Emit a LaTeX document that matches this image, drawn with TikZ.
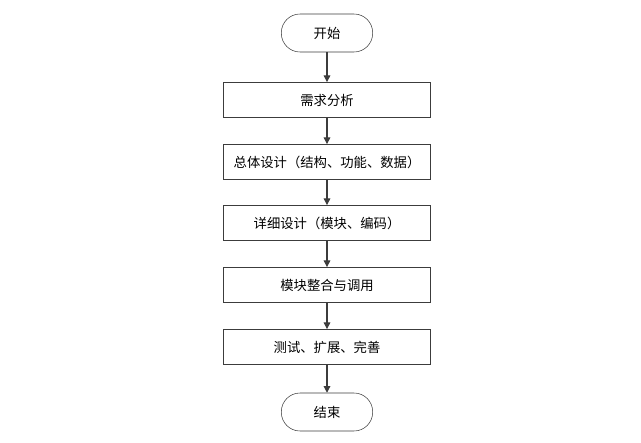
\documentclass[tikz,border=0pt]{standalone}
\usepackage{fontspec}
\setmainfont{Noto Sans CJK SC}
\usepackage{tikz}
\usetikzlibrary{arrows.meta}
\definecolor{lineclr}{RGB}{60,60,60}
\newcommand{\TXT}[1]{\textcolor{black}{#1}}

\begin{document}
\begin{tikzpicture}[x=0.75pt,y=-0.75pt,
    stepbox/.style={draw=lineclr,thin,minimum width=155.25pt,minimum height=26.5pt,font=\fontsize{10}{12}\selectfont},
    termbox/.style={draw=lineclr,thin,rounded corners=14pt,minimum width=68.5pt,minimum height=28.5pt,font=\fontsize{10}{12}\selectfont},
    flow/.style={draw=lineclr,thick,-{Triangle[length=5pt,width=5pt]}}]
    \useasboundingbox (0,0) rectangle (641,442);

    \node[termbox] (start) at (327,33) {\TXT{开始}};
    \node[stepbox] (req) at (327,100) {\TXT{需求分析}};
    \node[stepbox] (arch) at (327,162) {\TXT{总体设计（结构、功能、数据）}};
    \node[stepbox] (detail) at (327,223) {\TXT{详细设计（模块、编码）}};
    \node[stepbox] (merge) at (327,285) {\TXT{模块整合与调用}};
    \node[stepbox] (test) at (327,347) {\TXT{测试、扩展、完善}};
    \node[termbox] (stop) at (327,412) {\TXT{结束}};

    \draw[flow] (start) -- (req);
    \draw[flow] (req) -- (arch);
    \draw[flow] (arch) -- (detail);
    \draw[flow] (detail) -- (merge);
    \draw[flow] (merge) -- (test);
    \draw[flow] (test) -- (stop);
\end{tikzpicture}
\end{document}
